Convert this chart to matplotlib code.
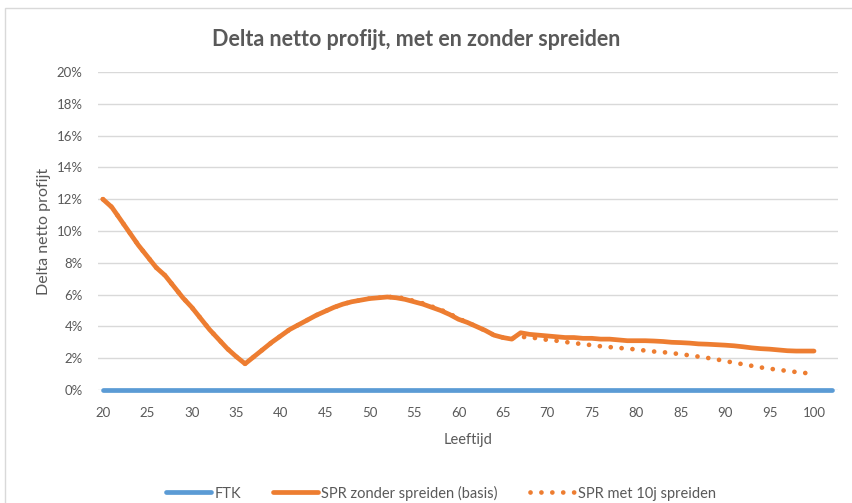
import matplotlib
matplotlib.use("Agg")
import matplotlib.pyplot as plt
from matplotlib.patches import Rectangle

plt.rcParams['font.family'] = ['Lato', 'DejaVu Sans']

ages = list(range(20, 101))
ftk_ages = list(range(20, 103))
ftk = [0.0] * len(ftk_ages)

spr_basis = [12.0, 11.5, 10.7, 9.9, 9.1, 8.4, 7.7, 7.2, 6.5, 5.8,
             5.2, 4.5, 3.8, 3.2, 2.6, 2.1, 1.65, 2.1, 2.55, 3.0,
             3.4, 3.8, 4.1, 4.4, 4.7, 4.95, 5.2, 5.4, 5.55, 5.65,
             5.75, 5.8, 5.85, 5.8, 5.7, 5.55, 5.4, 5.2, 5.0, 4.75,
             4.45, 4.25, 4.0, 3.75, 3.45, 3.3, 3.2, 3.6, 3.5, 3.45,
             3.4, 3.35, 3.3, 3.3, 3.25, 3.25, 3.2, 3.2, 3.15, 3.1,
             3.1, 3.1, 3.08, 3.05, 3.0, 2.98, 2.95, 2.9, 2.88, 2.85,
             2.82, 2.78, 2.72, 2.65, 2.6, 2.57, 2.52, 2.47, 2.45, 2.45,
             2.45]

spr_10j = [12.0, 11.5, 10.7, 9.9, 9.1, 8.4, 7.7, 7.2, 6.5, 5.8,
           5.2, 4.5, 3.8, 3.2, 2.6, 2.1, 1.65, 2.1, 2.55, 3.0,
           3.4, 3.8, 4.1, 4.4, 4.7, 4.95, 5.2, 5.4, 5.55, 5.65,
           5.75, 5.8, 5.85, 5.85, 5.75, 5.6, 5.45, 5.25, 5.05, 4.8,
           4.5, 4.25, 4.0, 3.75, 3.45, 3.3, 3.25, 3.35, 3.3, 3.25,
           3.15, 3.1, 3.02, 2.95, 2.88, 2.82, 2.75, 2.7, 2.65, 2.6,
           2.55, 2.48, 2.42, 2.38, 2.32, 2.25, 2.18, 2.1, 2.02, 1.93,
           1.82, 1.72, 1.62, 1.52, 1.42, 1.34, 1.27, 1.2, 1.13, 1.07,
           1.02]

x_ticks = list(range(20, 101, 5))
y_ticks = list(range(0, 21, 2))
y_tick_labels = [f"{v}%" for v in y_ticks]

W, H = 853, 503
fig = plt.figure(figsize=(W / 100, H / 100), dpi=100)

# chart border
fig.patches.append(Rectangle((5 / W, -0.01), 1.0, 1 - 8 / H + 0.01,
                             transform=fig.transFigure, fill=False,
                             edgecolor='#D9D9D9', linewidth=1))

ax = fig.add_axes([98 / W, 1 - 390 / H, 740 / W, (390 - 72) / H])

orange = '#ED7D31'
blue = '#5B9BD5'
gray_text = '#595959'

ax.plot(ftk_ages, ftk, color=blue, lw=3.4, solid_capstyle='round',
        label='FTK', zorder=3, clip_on=False)
ax.plot(ages, spr_basis, color=orange, lw=3.4, solid_capstyle='round',
        solid_joinstyle='round', label='SPR zonder spreiden (basis)', zorder=4)
ax.plot(ages, spr_10j, color=orange, lw=3.4, linestyle=(0, (0.01, 2.3)),
        dash_capstyle='round', label='SPR met 10j spreiden', zorder=5)

ax.set_xlim(19.45, 102.7)
ax.set_ylim(0, 20)
ax.set_xticks(x_ticks)
ax.set_yticks(y_ticks)
ax.set_yticklabels(y_tick_labels)
ax.tick_params(axis='both', length=0, labelsize=9.5, colors=gray_text)
ax.tick_params(axis='y', pad=11)
ax.tick_params(axis='x', pad=12)
ax.grid(axis='y', color='#D9D9D9', lw=1)
ax.set_axisbelow(True)
for s in ax.spines.values():
    s.set_visible(False)

ax.set_xlabel('Leeftijd', fontsize=10.5, color=gray_text, labelpad=10)
ax.set_ylabel('Delta netto profijt', fontsize=11.5, color=gray_text, labelpad=4)

fig.text(416 / W, 1 - 40 / H, 'Delta netto profijt, met en zonder spreiden',
         ha='center', va='center', fontsize=15.5, fontweight='bold', color=gray_text)

leg = fig.legend(loc='center', bbox_to_anchor=(441 / W, 1 - 493 / H), ncol=3,
                 frameon=False, fontsize=10.5, handlelength=3.1,
                 handletextpad=0.2, columnspacing=2.2, borderpad=0)
for t in leg.get_texts():
    t.set_color(gray_text)

fig.savefig('out.png', dpi=100)
